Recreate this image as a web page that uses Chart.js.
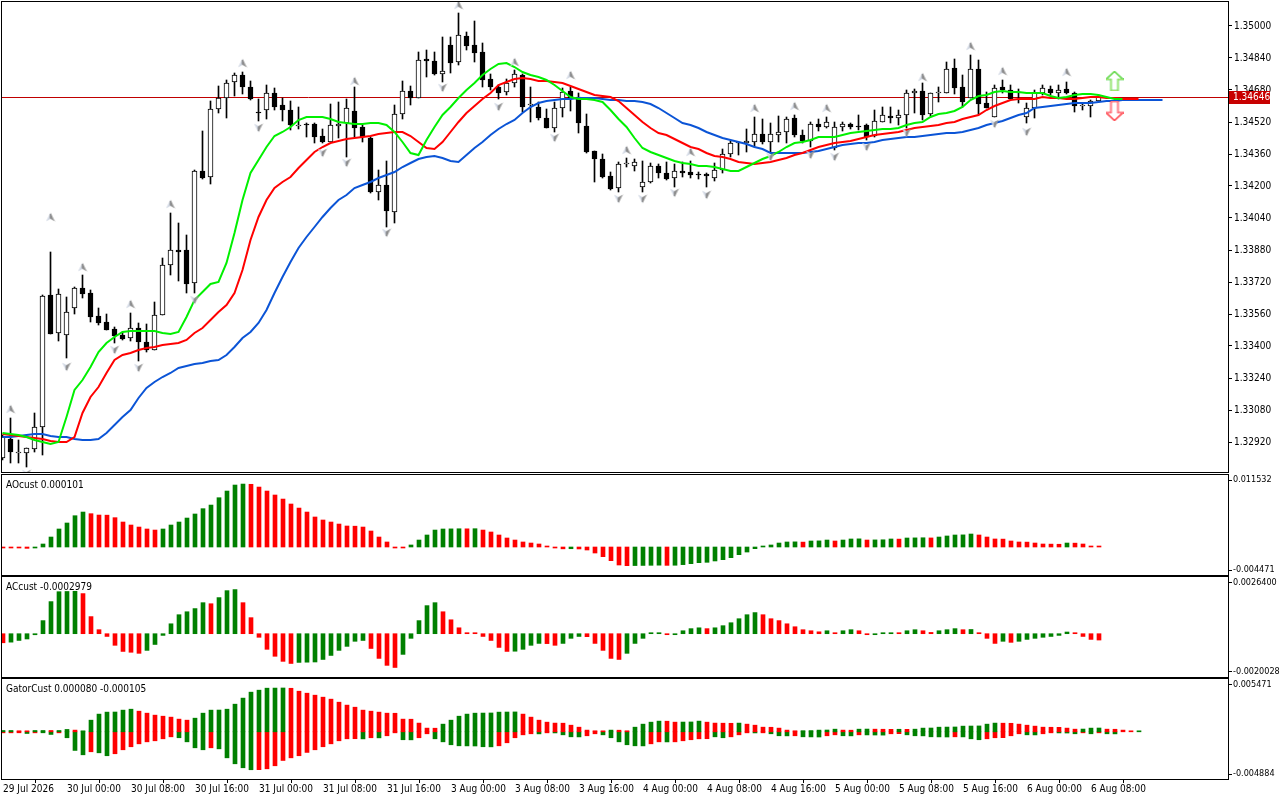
<!DOCTYPE html>
<html>
<head>
<meta charset="utf-8">
<title>H1 chart with Alligator, AO, AC, Gator</title>
<script src="https://cdn.jsdelivr.net/npm/chart.js@4.4.1/dist/chart.umd.min.js"></script>
<style>
  html, body { margin: 0; padding: 0; background: #fff; }
  #wrap { position: relative; width: 1280px; height: 800px; overflow: hidden; }
  #wrap canvas { position: absolute; left: 0; }
</style>
</head>
<body>
<div id="wrap">
  <canvas id="mainChart" width="1280" height="474" style="top:0"></canvas>
  <canvas id="aoChart" width="1280" height="102" style="top:474px"></canvas>
  <canvas id="acChart" width="1280" height="102" style="top:576px"></canvas>
  <canvas id="gatorChart" width="1280" height="122" style="top:678px"></canvas>
</div>
<script>
// ---- candles (H1), index 0 = 29 Jul 16:00 ----
const candleOpen = [
  1.32840,1.32935,1.32865,1.32865,1.32885,1.32995,1.33655,1.33465,1.33455,1.33590,
  1.33690,1.33665,1.33550,1.33520,1.33485,1.33455,1.33440,1.33490,1.33420,1.33380,
  1.33555,1.33805,1.33880,1.33880,1.33715,1.34275,1.34245,1.34585,1.34640,1.34720,
  1.34755,1.34695,1.34570,1.34580,1.34665,1.34605,1.34580,1.34500,1.34510,1.34510,
  1.34450,1.34420,1.34500,1.34515,1.34575,1.34495,1.34440,1.34170,1.34205,1.34070,
  1.34560,1.34675,1.34640,1.34835,1.34825,1.34760,1.34905,1.34820,1.34950,1.34905,
  1.34870,1.34735,1.34695,1.34670,1.34715,1.34755,1.34605,1.34595,1.34540,1.34490,
  1.34590,1.34675,1.34645,1.34500,1.34375,1.34335,1.34250,1.34190,1.34310,1.34300,
  1.34195,1.34220,1.34300,1.34265,1.34240,1.34275,1.34270,1.34260,1.34260,1.34240,
  1.34280,1.34360,1.34415,1.34415,1.34420,1.34460,1.34420,1.34455,1.34470,1.34540,
  1.34455,1.34425,1.34510,1.34495,1.34390,1.34495,1.34510,1.34500,1.34505,1.34450,
  1.34520,1.34550,1.34540,1.34555,1.34665,1.34675,1.34560,1.34665,1.34665,1.34790,
  1.34695,1.34640,1.34785,1.34615,1.34545,1.34695,1.34680,1.34665,1.34545,1.34590,
  1.34665,1.34685,1.34665,1.34685,1.34665,1.34600,1.34600,1.34625];
const candleHigh = [
  1.32955,1.33040,1.32930,1.32890,1.33065,1.33655,1.33870,1.33685,1.33645,1.33695,
  1.33755,1.33680,1.33590,1.33560,1.33495,1.33470,1.33565,1.33515,1.33510,1.33620,
  1.33840,1.34065,1.34015,1.33955,1.34280,1.34475,1.34625,1.34700,1.34730,1.34765,
  1.34770,1.34725,1.34635,1.34705,1.34690,1.34640,1.34625,1.34595,1.34515,1.34515,
  1.34485,1.34610,1.34620,1.34635,1.34695,1.34505,1.34445,1.34280,1.34325,1.34605,
  1.34725,1.34700,1.34870,1.34880,1.34870,1.34945,1.34945,1.35065,1.34970,1.35025,
  1.34915,1.34760,1.34705,1.34735,1.34780,1.34760,1.34695,1.34620,1.34585,1.34620,
  1.34690,1.34695,1.34665,1.34560,1.34375,1.34360,1.34270,1.34320,1.34340,1.34335,
  1.34325,1.34315,1.34310,1.34320,1.34310,1.34320,1.34325,1.34270,1.34265,1.34315,
  1.34385,1.34425,1.34420,1.34485,1.34545,1.34535,1.34515,1.34550,1.34545,1.34555,
  1.34480,1.34520,1.34535,1.34545,1.34520,1.34520,1.34515,1.34555,1.34510,1.34580,
  1.34595,1.34595,1.34580,1.34680,1.34685,1.34715,1.34665,1.34695,1.34820,1.34835,
  1.34755,1.34855,1.34830,1.34670,1.34705,1.34730,1.34705,1.34685,1.34615,1.34680,
  1.34705,1.34700,1.34705,1.34720,1.34670,1.34615,1.34630,1.34655];
const candleLow = [
  1.32830,1.32815,1.32815,1.32795,1.32870,1.32855,1.33460,1.33425,1.33340,1.33560,
  1.33640,1.33520,1.33505,1.33480,1.33415,1.33430,1.33425,1.33325,1.33370,1.33380,
  1.33555,1.33755,1.33725,1.33665,1.33665,1.34235,1.34210,1.34565,1.34540,1.34650,
  1.34660,1.34630,1.34525,1.34535,1.34580,1.34525,1.34480,1.34485,1.34445,1.34415,
  1.34415,1.34420,1.34440,1.34345,1.34445,1.34420,1.34165,1.34130,1.33995,1.34015,
  1.34535,1.34605,1.34640,1.34745,1.34755,1.34720,1.34765,1.34805,1.34880,1.34820,
  1.34695,1.34680,1.34635,1.34655,1.34695,1.34570,1.34520,1.34530,1.34490,1.34470,
  1.34545,1.34575,1.34465,1.34365,1.34220,1.34240,1.34180,1.34170,1.34295,1.34275,
  1.34170,1.34215,1.34240,1.34230,1.34195,1.34245,1.34240,1.34235,1.34195,1.34225,
  1.34265,1.34345,1.34355,1.34370,1.34395,1.34410,1.34370,1.34420,1.34415,1.34445,
  1.34415,1.34395,1.34475,1.34490,1.34380,1.34475,1.34485,1.34480,1.34430,1.34445,
  1.34520,1.34515,1.34505,1.34490,1.34565,1.34530,1.34550,1.34620,1.34665,1.34660,
  1.34595,1.34640,1.34560,1.34590,1.34545,1.34665,1.34630,1.34615,1.34515,1.34540,
  1.34655,1.34655,1.34635,1.34660,1.34570,1.34580,1.34545,1.34620];
const candleClose = [
  1.32945,1.32870,1.32865,1.32890,1.32995,1.33650,1.33460,1.33660,1.33570,1.33690,
  1.33660,1.33545,1.33515,1.33480,1.33450,1.33435,1.33490,1.33420,1.33380,1.33555,
  1.33805,1.33880,1.33870,1.33710,1.34275,1.34240,1.34585,1.34640,1.34715,1.34755,
  1.34695,1.34635,1.34565,1.34665,1.34595,1.34580,1.34505,1.34500,1.34505,1.34445,
  1.34420,1.34505,1.34510,1.34590,1.34490,1.34445,1.34170,1.34205,1.34075,1.34560,
  1.34675,1.34640,1.34830,1.34825,1.34760,1.34775,1.34815,1.34955,1.34900,1.34865,
  1.34730,1.34695,1.34665,1.34715,1.34760,1.34595,1.34605,1.34540,1.34490,1.34590,
  1.34670,1.34640,1.34515,1.34370,1.34335,1.34245,1.34185,1.34310,1.34310,1.34320,
  1.34220,1.34300,1.34265,1.34235,1.34275,1.34265,1.34255,1.34255,1.34250,1.34280,
  1.34360,1.34415,1.34415,1.34425,1.34460,1.34420,1.34460,1.34470,1.34535,1.34455,
  1.34425,1.34510,1.34495,1.34520,1.34495,1.34510,1.34495,1.34495,1.34445,1.34525,
  1.34555,1.34540,1.34555,1.34665,1.34675,1.34555,1.34665,1.34665,1.34785,1.34690,
  1.34620,1.34785,1.34610,1.34590,1.34690,1.34680,1.34635,1.34665,1.34590,1.34665,
  1.34690,1.34665,1.34680,1.34665,1.34600,1.34600,1.34625,1.34646];
const lastPrice = 1.34646;

// ---- alligator (already shifted forward: lips +3, teeth +5, jaw +8) ----
const lipsLine = [
  1.32965,1.32960,1.32955,1.32945,1.32930,1.32920,1.32910,1.32920,1.33045,1.33180,
  1.33230,1.33295,1.33370,1.33415,1.33445,1.33470,1.33475,1.33475,1.33475,1.33475,
  1.33465,1.33460,1.33470,1.33545,1.33630,1.33670,1.33710,1.33720,1.33815,1.33965,
  1.34130,1.34265,1.34330,1.34395,1.34450,1.34470,1.34495,1.34530,1.34545,1.34545,
  1.34545,1.34535,1.34520,1.34515,1.34510,1.34510,1.34515,1.34515,1.34505,1.34470,
  1.34420,1.34365,1.34355,1.34430,1.34495,1.34555,1.34595,1.34640,1.34680,1.34715,
  1.34755,1.34785,1.34810,1.34815,1.34795,1.34770,1.34755,1.34745,1.34730,1.34705,
  1.34675,1.34645,1.34635,1.34635,1.34630,1.34620,1.34580,1.34535,1.34495,1.34440,
  1.34390,1.34370,1.34355,1.34340,1.34325,1.34315,1.34310,1.34300,1.34300,1.34295,
  1.34285,1.34275,1.34275,1.34295,1.34315,1.34335,1.34350,1.34370,1.34395,1.34415,
  1.34420,1.34430,1.34445,1.34445,1.34445,1.34455,1.34465,1.34470,1.34475,1.34480,
  1.34485,1.34485,1.34490,1.34505,1.34515,1.34520,1.34545,1.34560,1.34565,1.34575,
  1.34595,1.34630,1.34650,1.34655,1.34670,1.34675,1.34670,1.34670,1.34665,1.34665,
  1.34665,1.34650,1.34640,1.34645,1.34655,1.34660,1.34660,1.34655,1.34645,1.34635,
  1.34635];
const teethLine = [
  1.32960,1.32955,1.32950,1.32945,1.32940,1.32935,1.32925,1.32920,1.32920,1.32945,
  1.33065,1.33145,1.33195,1.33265,1.33330,1.33355,1.33365,1.33380,1.33390,1.33395,
  1.33405,1.33410,1.33415,1.33430,1.33465,1.33490,1.33530,1.33570,1.33605,1.33665,
  1.33780,1.33930,1.34045,1.34130,1.34190,1.34220,1.34245,1.34290,1.34330,1.34370,
  1.34395,1.34415,1.34425,1.34435,1.34440,1.34445,1.34450,1.34460,1.34465,1.34470,
  1.34470,1.34450,1.34420,1.34390,1.34385,1.34420,1.34470,1.34520,1.34565,1.34600,
  1.34635,1.34665,1.34705,1.34720,1.34735,1.34740,1.34735,1.34725,1.34725,1.34720,
  1.34715,1.34700,1.34685,1.34670,1.34655,1.34650,1.34645,1.34625,1.34590,1.34555,
  1.34520,1.34490,1.34465,1.34455,1.34435,1.34415,1.34395,1.34385,1.34365,1.34350,
  1.34345,1.34335,1.34320,1.34315,1.34310,1.34315,1.34320,1.34330,1.34340,1.34355,
  1.34365,1.34380,1.34395,1.34405,1.34415,1.34420,1.34425,1.34435,1.34445,1.34455,
  1.34460,1.34465,1.34470,1.34480,1.34490,1.34495,1.34500,1.34505,1.34515,1.34520,
  1.34535,1.34545,1.34555,1.34580,1.34600,1.34615,1.34630,1.34635,1.34635,1.34635,
  1.34645,1.34640,1.34640,1.34635,1.34635,1.34640,1.34645,1.34645,1.34640,1.34640,
  1.34635,1.34635,1.34635];
const jawLine = [
  1.32945,1.32945,1.32950,1.32955,1.32960,1.32960,1.32950,1.32945,1.32945,1.32935,
  1.32930,1.32930,1.32935,1.32965,1.33005,1.33045,1.33080,1.33140,1.33190,1.33220,
  1.33245,1.33265,1.33290,1.33300,1.33310,1.33315,1.33325,1.33330,1.33355,1.33395,
  1.33440,1.33470,1.33515,1.33580,1.33665,1.33745,1.33820,1.33890,1.33945,1.33995,
  1.34045,1.34090,1.34130,1.34155,1.34190,1.34205,1.34220,1.34240,1.34255,1.34270,
  1.34295,1.34315,1.34335,1.34345,1.34350,1.34340,1.34325,1.34320,1.34355,1.34390,
  1.34420,1.34455,1.34485,1.34510,1.34530,1.34565,1.34595,1.34615,1.34625,1.34630,
  1.34635,1.34635,1.34640,1.34640,1.34640,1.34635,1.34630,1.34630,1.34625,1.34625,
  1.34620,1.34610,1.34590,1.34565,1.34540,1.34515,1.34505,1.34490,1.34470,1.34455,
  1.34440,1.34430,1.34420,1.34410,1.34395,1.34385,1.34365,1.34365,1.34365,1.34365,
  1.34365,1.34370,1.34375,1.34385,1.34395,1.34405,1.34410,1.34415,1.34415,1.34420,
  1.34430,1.34435,1.34440,1.34445,1.34445,1.34450,1.34455,1.34460,1.34465,1.34465,
  1.34470,1.34480,1.34490,1.34505,1.34515,1.34525,1.34540,1.34555,1.34565,1.34590,
  1.34595,1.34600,1.34605,1.34610,1.34615,1.34615,1.34615,1.34620,1.34625,1.34625,
  1.34630,1.34630,1.34630,1.34630,1.34630,1.34630];

// ---- fractals ----
const fracUpIdx = [1,6,10,16,21,30,44,57,64,71,78,86,94,99,103,115,121,125,133];
const fracUpVal = [1.33085,1.34045,1.33795,1.33610,1.34110,1.34815,1.34725,1.35105,1.34820,1.34755,
                   1.34380,1.34370,1.34590,1.34600,1.34590,1.34745,1.34900,1.34775,1.34770];
const fracDnIdx = [3,8,14,17,24,32,40,43,48,55,62,69,77,80,84,88,96,101,104,108,113,124,128];
const fracDnVal = [1.32760,1.33295,1.33380,1.33290,1.33630,1.34490,1.34365,1.34315,1.33965,1.34690,
                   1.34595,1.34440,1.34135,1.34135,1.34165,1.34155,1.34345,1.34355,1.34345,1.34395,
                   1.34465,1.34510,1.34470];
// signal arrows next to the last bar
const signalIdx = 139;
const signalUpVal = 1.34725;
const signalDnVal = 1.34575;

// ---- oscillators ----
const aoValues = [
  -0.00005,-0.00008,-0.00015,-0.00022,-0.00015,0.00049,0.00163,0.00294,0.00392,0.00511,
  0.00571,0.00544,0.00522,0.00520,0.00479,0.00408,0.00359,0.00326,0.00294,0.00277,
  0.00294,0.00359,0.00408,0.00473,0.00539,0.00626,0.00685,0.00805,0.00914,0.01012,
  0.01028,0.01024,0.00979,0.00914,0.00849,0.00783,0.00702,0.00636,0.00571,0.00490,
  0.00441,0.00408,0.00375,0.00343,0.00340,0.00326,0.00261,0.00163,0.00082,-0.00016,
  -0.00012,0.00033,0.00114,0.00196,0.00277,0.00294,0.00296,0.00298,0.00297,0.00299,
  0.00277,0.00245,0.00196,0.00147,0.00114,0.00082,0.00065,0.00049,0.00016,-0.00003,
  -0.00030,-0.00028,-0.00032,-0.00049,-0.00098,-0.00158,-0.00223,-0.00294,-0.00305,-0.00303,
  -0.00301,-0.00299,-0.00297,-0.00300,-0.00298,-0.00288,-0.00272,-0.00256,-0.00250,-0.00228,
  -0.00207,-0.00174,-0.00125,-0.00082,-0.00027,0.00011,0.00033,0.00065,0.00082,0.00084,
  0.00080,0.00098,0.00100,0.00114,0.00098,0.00114,0.00131,0.00133,0.00114,0.00116,
  0.00118,0.00131,0.00129,0.00147,0.00149,0.00151,0.00148,0.00163,0.00180,0.00196,
  0.00198,0.00212,0.00196,0.00163,0.00131,0.00129,0.00098,0.00082,0.00080,0.00065,
  0.00049,0.00047,0.00045,0.00065,0.00063,0.00049,0.00016,0.00010];
const aoColors = ('rrrrgggggg grrrrrrrrr gggggggggg grrrrrrrrr rrrrrrrrrr rgggggggrg ' +
  'rrrrrrrrrr rgrrrrrrrg gggrgggggg gggggggggg rgggrgggrg ggrgggrggg ggrrrrrrrr rrrgrrrr').replace(/ /g, '');

const acValues = [
  -0.00043,-0.00040,-0.00032,-0.00025,-0.00005,0.00062,0.00152,0.00199,0.00200,0.00201,
  0.00190,0.00081,0.00019,-0.00013,-0.00055,-0.00084,-0.00088,-0.00093,-0.00079,-0.00051,
  -0.00008,0.00047,0.00090,0.00104,0.00119,0.00147,0.00142,0.00171,0.00204,0.00209,
  0.00147,0.00076,-0.00017,-0.00074,-0.00107,-0.00131,-0.00141,-0.00136,-0.00135,-0.00134,
  -0.00122,-0.00103,-0.00079,-0.00060,-0.00036,-0.00032,-0.00070,-0.00117,-0.00150,-0.00160,
  -0.00098,-0.00022,0.00062,0.00133,0.00147,0.00104,0.00066,0.00028,0.00003,0.00002,
  -0.00013,-0.00032,-0.00065,-0.00084,-0.00083,-0.00074,-0.00055,-0.00046,-0.00047,-0.00055,
  -0.00046,-0.00022,-0.00013,-0.00014,-0.00046,-0.00079,-0.00117,-0.00122,-0.00093,-0.00046,
  -0.00022,0.00003,0.00004,-0.00003,-0.00002,0.00014,0.00024,0.00028,0.00024,0.00028,
  0.00038,0.00052,0.00071,0.00090,0.00100,0.00090,0.00071,0.00062,0.00047,0.00033,
  0.00019,0.00014,0.00009,0.00014,0.00003,0.00014,0.00019,0.00014,-0.00002,-0.00001,
  0.00001,0.00003,0.00002,0.00014,0.00019,0.00014,0.00006,0.00014,0.00019,0.00024,
  0.00019,0.00020,0.00003,-0.00022,-0.00046,-0.00036,-0.00041,-0.00036,-0.00027,-0.00022,
  -0.00017,-0.00013,-0.00008,0.00008,0.00002,-0.00013,-0.00027,-0.00030];
const acColors = ('rggggggggg rrrrrrrrgg ggggggrggg rrrrrrrggg ggggggrrrr gggggrrrrr ' +
  'rrrrggggrr gggrrrrrgg gggrggggrg gggggrrrrr rrrgrggrrg ggrggrrggg rgrrrgrggg ggggrrrr').replace(/ /g, '');

const gatorUp = [
  0.00014,0.00014,0.00011,0.00004,0.00014,0.00014,0.00014,0.00014,0.00025,0.00018,
  0.00004,0.00123,0.00187,0.00208,0.00209,0.00229,0.00239,0.00218,0.00197,0.00176,
  0.00165,0.00155,0.00134,0.00123,0.00144,0.00197,0.00229,0.00230,0.00239,0.00292,
  0.00356,0.00419,0.00440,0.00461,0.00462,0.00463,0.00460,0.00429,0.00408,0.00387,
  0.00366,0.00345,0.00313,0.00282,0.00260,0.00229,0.00218,0.00208,0.00197,0.00196,
  0.00134,0.00133,0.00092,0.00039,0.00038,0.00081,0.00123,0.00165,0.00187,0.00197,
  0.00198,0.00199,0.00208,0.00209,0.00210,0.00187,0.00155,0.00123,0.00102,0.00092,
  0.00091,0.00070,0.00049,0.00018,0.00011,0.00010,0.00018,0.00017,0.00011,0.00049,
  0.00081,0.00102,0.00113,0.00112,0.00102,0.00103,0.00104,0.00113,0.00102,0.00092,
  0.00091,0.00090,0.00092,0.00081,0.00070,0.00049,0.00048,0.00039,0.00018,0.00011,
  0.00012,0.00013,0.00018,0.00019,0.00028,0.00018,0.00017,0.00028,0.00029,0.00028,
  0.00027,0.00026,0.00027,0.00026,0.00028,0.00039,0.00040,0.00049,0.00050,0.00051,
  0.00060,0.00061,0.00062,0.00081,0.00092,0.00091,0.00090,0.00081,0.00070,0.00060,
  0.00049,0.00048,0.00047,0.00039,0.00028,0.00029,0.00039,0.00040,0.00028,0.00027,
  0.00018,0.00004,0.00004];
const gatorUpColors = ('ggrrggrggr gggggggrrr rrrrgggggg ggggggrrrr rrrrrrrrrr rrrrrggggg ' +
  'gggggrrrrr rrrrrrgrrg gggrrgggrr rrgrrrrrrr gggggrrggr rrgrgggggg gggggrrrrr rrrrrgggrr rrg').replace(/ /g, '');
const gatorDown = [
  -0.00011,-0.00011,-0.00007,-0.00018,-0.00011,-0.00007,-0.00028,-0.00011,-0.00063,-0.00197,
  -0.00243,-0.00211,-0.00222,-0.00253,-0.00232,-0.00190,-0.00158,-0.00127,-0.00106,-0.00095,
  -0.00074,-0.00053,-0.00063,-0.00106,-0.00169,-0.00190,-0.00169,-0.00180,-0.00275,-0.00338,
  -0.00380,-0.00401,-0.00400,-0.00391,-0.00359,-0.00303,-0.00275,-0.00253,-0.00218,-0.00190,
  -0.00158,-0.00127,-0.00095,-0.00074,-0.00073,-0.00075,-0.00063,-0.00064,-0.00042,-0.00011,
  -0.00084,-0.00085,-0.00063,-0.00021,-0.00074,-0.00106,-0.00137,-0.00148,-0.00149,-0.00150,
  -0.00158,-0.00159,-0.00148,-0.00116,-0.00063,-0.00032,-0.00021,-0.00022,-0.00011,-0.00012,
  -0.00032,-0.00053,-0.00054,-0.00042,-0.00021,-0.00032,-0.00063,-0.00106,-0.00137,-0.00148,
  -0.00149,-0.00127,-0.00106,-0.00107,-0.00106,-0.00095,-0.00084,-0.00074,-0.00073,-0.00053,
  -0.00063,-0.00053,-0.00032,-0.00011,-0.00012,-0.00011,-0.00021,-0.00042,-0.00043,-0.00042,
  -0.00053,-0.00054,-0.00055,-0.00042,-0.00032,-0.00042,-0.00043,-0.00032,-0.00033,-0.00034,
  -0.00035,-0.00021,-0.00020,-0.00032,-0.00042,-0.00043,-0.00053,-0.00054,-0.00055,-0.00053,
  -0.00054,-0.00074,-0.00084,-0.00074,-0.00063,-0.00062,-0.00042,-0.00021,-0.00032,-0.00033,
  -0.00021,-0.00011,-0.00012,-0.00013,-0.00021,-0.00011,-0.00021,-0.00011,-0.00021,-0.00022];
const gatorDownColors = ('rrrgrggrgg grggrrrrrr rrggggrggg ggrrrrrrrr rrrrrgrgrr ggrrgggggg ' +
  'ggrrrrrgrg gggrrggggg grrgrrrrrg grrrgrgggr gggrrggrgg grrggggggr gggrrrrrgg rrgggrgrgg').replace(/ /g, '');

// ---- axes text ----
const xTickIdx = [0,8,16,24,32,40,48,56,64,72,80,88,96,104,112,120,128,136];
const xTickText = ['29 Jul 2026','30 Jul 00:00','30 Jul 08:00','30 Jul 16:00','31 Jul 00:00','31 Jul 08:00',
  '31 Jul 16:00','3 Aug 00:00','3 Aug 08:00','3 Aug 16:00','4 Aug 00:00','4 Aug 08:00','4 Aug 16:00',
  '5 Aug 00:00','5 Aug 08:00','5 Aug 16:00','6 Aug 00:00','6 Aug 08:00'];
const priceTicks = [1.35000,1.34840,1.34680,1.34520,1.34360,1.34200,1.34040,1.33880,1.33720,1.33560,
  1.33400,1.33240,1.33080,1.32920];
const aoTickPos = [0.010941, -0.003756];   const aoTickText = ['0.011532', '-0.004471'];
const acTickPos = [0.002435, -0.001814];   const acTickText = ['0.0026400', '-0.0020028'];
const gatorTickPos = [0.004977, -0.004459]; const gatorTickText = ['0.005471', '-0.004884'];
const paneTitles = ['AOcust 0.000101', 'ACcust -0.0002979', 'GatorCust 0.000080 -0.000105'];

// ---------------------------------------------------------------
const FONT = '"Liberation Sans Narrow", "DejaVu Sans Condensed", "Liberation Sans", Arial, sans-serif';
Chart.defaults.font.family = FONT;
Chart.defaults.font.size = 10;
Chart.defaults.color = '#000';
Chart.defaults.animation = false;
Chart.defaults.plugins.legend.display = false;
Chart.defaults.plugins.tooltip.enabled = false;

const GREEN = '#008000', RED = '#ff0000';
const BAR_SPAN = 153.25; // bars visible across the plot width (8 px per bar)

function xAxis(min, withLabels) {
  const ax = { type: 'linear', min: min, max: min + BAR_SPAN, offset: false, bounds: 'data' };
  if (!withLabels) { ax.display = false; return ax; }
  ax.afterBuildTicks = s => { s.ticks = xTickIdx.map(v => ({ value: v })); };
  ax.afterFit = s => { s.height = 21; s.paddingLeft = 0; s.paddingRight = 0; };
  ax.grid = { drawOnChartArea: false, drawTicks: true, tickLength: 4, color: '#000' };
  ax.border = { display: false };
  ax.ticks = { align: 'start', autoSkip: false, maxRotation: 0, minRotation: 0, padding: 0,
               callback: (v, i) => xTickText[i] };
  return ax;
}

function yAxis(min, max, tickVals, label, size, pad) {
  return {
    position: 'right', min: min, max: max, bounds: 'data',
    afterBuildTicks: s => { s.ticks = tickVals.map(v => ({ value: v })); },
    afterFit: s => { s.width = 52; s.paddingTop = 0; s.paddingBottom = 0; },
    grid: { drawOnChartArea: false, drawTicks: true, tickLength: 4, color: '#000' },
    border: { display: false },
    ticks: { padding: pad === undefined ? 2 : pad, autoSkip: false, callback: label,
             font: { size: size || 10 } }
  };
}

// frame around the plot area + pane caption
const framePlugin = {
  id: 'frame',
  afterDraw(chart, args, opts) {
    const { ctx, chartArea: a } = chart;
    ctx.save();
    ctx.strokeStyle = '#000';
    ctx.lineWidth = 1;
    ctx.strokeRect(a.left - 0.5, a.top - 0.5, a.right - a.left + 1, a.bottom - a.top + 1);
    if (opts.title) {
      ctx.font = '10px ' + FONT;
      ctx.fillStyle = '#000';
      ctx.textBaseline = 'middle';
      ctx.fillText(opts.title, a.left + 4, a.top + 10);
    }
    ctx.restore();
  }
};

// bid line + price tag
const bidPlugin = {
  id: 'bid',
  beforeDatasetsDraw(chart) {
    const { ctx, chartArea: a } = chart;
    const y = Math.round(chart.scales.y.getPixelForValue(lastPrice)) + 0.5;
    ctx.save();
    ctx.strokeStyle = '#c00000';
    ctx.lineWidth = 1;
    ctx.beginPath(); ctx.moveTo(a.left, y); ctx.lineTo(a.right, y); ctx.stroke();
    ctx.restore();
  },
  afterDraw(chart) {
    const { ctx, chartArea: a } = chart;
    const y = Math.round(chart.scales.y.getPixelForValue(lastPrice));
    ctx.save();
    ctx.fillStyle = '#c80000';
    ctx.fillRect(a.right + 1, y - 6, 41, 13);
    ctx.fillStyle = '#fff';
    ctx.font = '10px ' + FONT;
    ctx.textBaseline = 'middle';
    ctx.fillText(lastPrice.toFixed(5), a.right + 5, y + 0.5);
    ctx.restore();
  }
};

// small grey fractal arrowheads
function fractalImg(up) {
  const c = document.createElement('canvas');
  c.width = 10; c.height = 10;
  const g = c.getContext('2d');
  if (!up) { g.translate(0, 10); g.scale(1, -1); }
  g.fillStyle = '#d3d9e4';
  g.beginPath(); g.moveTo(5, 0.5); g.lineTo(5, 7); g.lineTo(0.5, 9.5); g.closePath(); g.fill();
  g.fillStyle = '#999';
  g.beginPath(); g.moveTo(5, 0.5); g.lineTo(9.5, 9.5); g.lineTo(5, 7); g.closePath(); g.fill();
  g.strokeStyle = '#6a6a6a'; g.lineWidth = 1;
  g.beginPath(); g.moveTo(5, 2); g.lineTo(5, 6.5); g.stroke();
  return c;
}

// hollow signal arrows
function signalImg(up) {
  const c = document.createElement('canvas');
  c.width = 18; c.height = 20;
  const g = c.getContext('2d');
  if (!up) { g.translate(0, 20); g.scale(1, -1); }
  const path = () => {
    g.beginPath();
    g.moveTo(9, 0.5); g.lineTo(17.5, 8.5); g.lineTo(12.5, 8.5); g.lineTo(12.5, 19.5);
    g.lineTo(5.5, 19.5); g.lineTo(5.5, 8.5); g.lineTo(0.5, 8.5); g.closePath();
  };
  g.lineWidth = 1.6;
  g.strokeStyle = up ? '#2ecc2e' : '#ff1e1e';
  path(); g.stroke();
  g.lineWidth = 0.7;
  g.strokeStyle = up ? '#d4f08a' : '#ffa8bc';
  path(); g.stroke();
  return c;
}

const pts = (idx, vals) => idx.map((x, k) => ({ x: x, y: vals[k] }));
const series = vals => vals.map((y, i) => ({ x: i, y: y }));
const dirColor = flags => ctx => flags[ctx.dataIndex] === 'g' ? GREEN : RED;

// ---- main price chart ----
new Chart(document.getElementById('mainChart'), {
  type: 'bar',
  data: {
    datasets: [
      { type: 'line', data: [{ x: signalIdx, y: signalUpVal }], showLine: false,
        pointStyle: signalImg(true), pointRadius: 9, order: 0 },
      { type: 'line', data: [{ x: signalIdx, y: signalDnVal }], showLine: false,
        pointStyle: signalImg(false), pointRadius: 9, order: 0 },
      { type: 'line', data: pts(fracUpIdx, fracUpVal), showLine: false,
        pointStyle: fractalImg(true), pointRadius: 5, order: 0 },
      { type: 'line', data: pts(fracDnIdx, fracDnVal), showLine: false,
        pointStyle: fractalImg(false), pointRadius: 5, order: 0 },
      { type: 'line', label: 'Lips', data: series(lipsLine), borderColor: '#00f000',
        borderWidth: 2, pointRadius: 0, tension: 0, order: 1 },
      { type: 'line', label: 'Teeth', data: series(teethLine), borderColor: '#ff0000',
        borderWidth: 2, pointRadius: 0, tension: 0, order: 2 },
      { type: 'line', label: 'Jaw', data: series(jawLine), borderColor: '#0b54d6',
        borderWidth: 2, pointRadius: 0, tension: 0, order: 3 },
      { type: 'bar', label: 'Body',
        data: candleOpen.map((o, i) => ({ x: i, y: [o, candleClose[i]] })),
        backgroundColor: ctx => candleClose[ctx.dataIndex] >= candleOpen[ctx.dataIndex] ? '#fff' : '#000',
        borderColor: '#000', borderWidth: 1, borderSkipped: false,
        barThickness: 5, minBarLength: 1, grouped: false, order: 4 },
      { type: 'bar', label: 'Wick',
        data: candleLow.map((l, i) => ({ x: i, y: [l, candleHigh[i]] })),
        backgroundColor: '#000', barThickness: 1, grouped: false, order: 5 }
    ]
  },
  options: {
    responsive: false,
    layout: { autoPadding: false, padding: { left: 2, top: 2, bottom: 2, right: 0 } },
    scales: {
      x: xAxis(-0.0625, false),
      y: yAxis(1.3277, 1.3512, priceTicks, v => v.toFixed(5))
    },
    plugins: { frame: {} }
  },
  plugins: [bidPlugin, framePlugin]
});

function oscChart(id, datasets, min, max, tickPos, tickText, title, withX) {
  return new Chart(document.getElementById(id), {
    type: 'bar',
    data: { datasets: datasets },
    options: {
      responsive: false,
      layout: { autoPadding: false, padding: { left: 2, top: 1, bottom: withX ? 0 : 1, right: 0 } },
      scales: {
        x: xAxis(-0.125, withX),
        y: yAxis(min, max, tickPos, (v, i) => tickText[i], 9, 1)
      },
      plugins: { frame: { title: title } }
    },
    plugins: [framePlugin]
  });
}

const oscBar = (vals, flags) => ({
  data: series(vals), backgroundColor: dirColor(flags),
  barThickness: 4, minBarLength: 1, grouped: false
});

oscChart('aoChart', [oscBar(aoValues, aoColors)], -0.004572, 0.011758,
  aoTickPos, aoTickText, paneTitles[0], false);
oscChart('acChart', [oscBar(acValues, acColors)], -0.002051, 0.002686,
  acTickPos, acTickText, paneTitles[1], false);
oscChart('gatorChart', [oscBar(gatorUp, gatorUpColors), oscBar(gatorDown, gatorDownColors)],
  -0.004987, 0.005579, gatorTickPos, gatorTickText, paneTitles[2], true);
</script>
</body>
</html>
